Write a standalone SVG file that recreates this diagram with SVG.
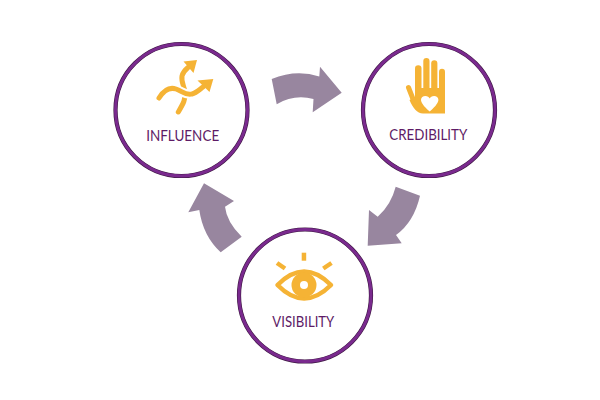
<svg xmlns="http://www.w3.org/2000/svg" width="600" height="400" viewBox="0 0 600 400">
  <style>
    .ring-out { fill: #ffffff; stroke: #3d1842; stroke-width: 4.2; }
    .ring { fill: none; stroke: #7a2a8e; stroke-width: 3; }
    .label { font-family: "Lato", "Liberation Sans", sans-serif; font-size: 14.5px; fill: #5e1b66; text-anchor: middle; }
    .ico { fill: #f5b335; }
    .icos { fill: none; stroke: #f5b335; stroke-width: 5; stroke-linecap: round; }
    .arrow { fill: #98869f; }
  </style>
  <rect width="600" height="400" fill="#ffffff"/>

  <g id="connectors">
    <path class="arrow" d="M271.7,79 Q296,69 319.3,76.5 L320,66.7 L341.7,92.7 L312.7,112.3 L313.5,99 Q294,94 276.7,104.3 Z"/>
    <path class="arrow" d="M395.7,186.7 L420,195.7 Q414,222 396,235 L401.7,243.3 L367.7,245.7 L369,210 L377.7,216.7 Q391,205 395.7,186.7 Z"/>
    <path class="arrow" d="M204,183.3 L234,201 L225,206.7 Q226.7,222 241.7,236.7 L220.7,252.3 Q203,236 199.3,210 L188.3,212.3 Z"/>
  </g>

  <g id="influence">
    <circle class="ring-out" cx="181.5" cy="110" r="66"/>
    <circle class="ring" cx="181.5" cy="110" r="66"/>
    <path class="icos" d="M178.3,112 C183,104 186,99 185,92 C184,86 181,82 182,76 C183,72 185,70 188,67.5"/>
    <polygon class="ico" points="197,60 183.5,61.5 193.5,73"/>
    <path d="M159,98 C164,90 170,87 176,89 C182,91 186,96 192,94 C196,93 199,90 203,87" fill="none" stroke="#ffffff" stroke-width="9" stroke-linecap="round"/>
    <path class="icos" d="M159,98 C164,90 170,87 176,89 C182,91 186,96 192,94 C196,93 199,90 203,87"/>
    <polygon class="ico" points="213.3,79 197.5,80.5 209.5,92"/>
    <text class="label" x="182.7" y="140.5" textLength="73" lengthAdjust="spacingAndGlyphs">INFLUENCE</text>
  </g>

  <g id="credibility">
    <circle class="ring-out" cx="429" cy="110" r="66"/>
    <circle class="ring" cx="429" cy="110" r="66"/>
    <rect class="ico" x="415" y="65.3" width="6.5" height="30" rx="3.2"/>
    <rect class="ico" x="423.3" y="58" width="6.2" height="35" rx="3.1"/>
    <rect class="ico" x="431.2" y="60.3" width="6.2" height="33" rx="3.1"/>
    <rect class="ico" x="439" y="68.7" width="6" height="26" rx="3"/>
    <path class="ico" d="M415,88 H445 V113.5 H423 C417,113.5 413,108 409.5,100 L415,97 Z"/>
    <path class="icos" d="M408.5,87.5 L413,99" stroke-width="6.5"/>
    <path fill="#ffffff" d="M429.7,111.5 C423,106 421,102 421,99.8 C421,97.5 423,96 425.3,96 C427.5,96 429,97.2 429.7,98.5 C430.4,97.2 431.9,96 434.1,96 C436.4,96 438.4,97.5 438.4,99.8 C438.4,102 436.4,106 429.7,111.5 Z"/>
    <text class="label" x="428.3" y="139.5" textLength="78" lengthAdjust="spacingAndGlyphs">CREDIBILITY</text>
  </g>

  <g id="visibility">
    <circle class="ring-out" cx="305" cy="295.5" r="66"/>
    <circle class="ring" cx="305" cy="295.5" r="66"/>
    <rect class="ico" x="301.7" y="252.7" width="4.5" height="8"/>
    <line x1="277" y1="263" x2="285" y2="268.5" stroke="#f5b335" stroke-width="4.5"/>
    <line x1="323.3" y1="268.5" x2="331.5" y2="263" stroke="#f5b335" stroke-width="4.5"/>
    <path d="M277.5,285 Q304,258 331,285 Q304,312 277.5,285 Z" fill="#ffffff" stroke="#f5b335" stroke-width="4.5" stroke-linejoin="round"/>
    <circle class="ico" cx="304" cy="285" r="12.5"/>
    <circle cx="304" cy="285" r="4" fill="#ffffff"/>
    <text class="label" x="303.3" y="326.7" textLength="62" lengthAdjust="spacingAndGlyphs">VISIBILITY</text>
  </g>
</svg>
